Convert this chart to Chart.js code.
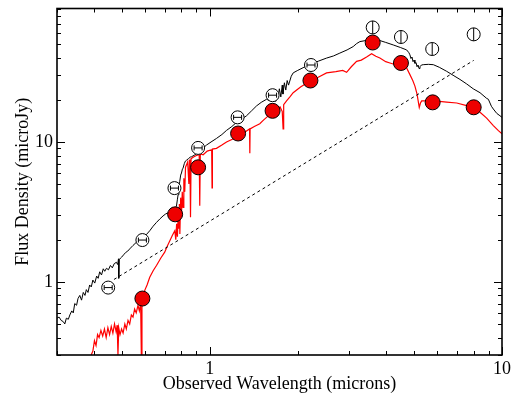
<!DOCTYPE html>
<html>
<head>
<meta charset="utf-8">
<script src="https://cdn.jsdelivr.net/npm/chart.js@4/dist/chart.umd.min.js"></script>
<style>
  html, body { margin: 0; padding: 0; background: #fff; }
  #wrap { width: 520px; height: 397px; }
</style>
</head>
<body>
<div id="wrap"><canvas id="sed" width="520" height="397"></canvas></div>
<script>
// model spectrum (black)
const blackWave = [0.300, 0.305, 0.310, 0.315, 0.319, 0.323, 0.328, 0.332, 0.337, 0.341, 0.345, 0.350, 0.354, 0.359, 0.364, 0.369, 0.374, 0.378, 0.383, 0.388, 0.393, 0.398, 0.404, 0.410, 0.415, 0.420, 0.426, 0.432, 0.437, 0.443, 0.450, 0.457, 0.464, 0.471, 0.479, 0.484, 0.487, 0.488, 0.490, 0.495, 0.499, 0.507, 0.515, 0.524, 0.532, 0.546, 0.561, 0.575, 0.591, 0.607, 0.623, 0.640, 0.657, 0.675, 0.692, 0.705, 0.720, 0.735, 0.745, 0.755, 0.769, 0.775, 0.779, 0.784, 0.789, 0.795, 0.800, 0.806, 0.810, 0.818, 0.825, 0.832, 0.845, 0.858, 0.866, 0.890, 0.912, 0.940, 0.974, 1.01, 1.054, 1.10, 1.141, 1.19, 1.234, 1.29, 1.336, 1.39, 1.445, 1.50, 1.564, 1.60, 1.62, 1.647, 1.66, 1.68, 1.692, 1.71, 1.73, 1.75, 1.77, 1.78, 1.80, 1.82, 1.84, 1.86, 1.90, 1.93, 2.00, 2.10, 2.20, 2.35, 2.51, 2.65, 2.787, 2.95, 3.096, 3.18, 3.264, 3.40, 3.50, 3.579, 3.70, 3.82, 4.00, 4.244, 4.50, 4.717, 4.80, 4.84, 4.88, 4.92, 4.96, 5.00, 5.035, 5.08, 5.12, 5.16, 5.20, 5.24, 5.30, 5.377, 5.60, 5.82, 6.10, 6.466, 6.80, 7.18, 7.57, 7.97, 8.41, 8.86, 8.98, 9.20, 9.34, 9.60, 9.84, 10.0];
const blackFlux = [0.55, 0.56, 0.53, 0.52, 0.50, 0.55, 0.54, 0.58, 0.62, 0.60, 0.70, 0.68, 0.76, 0.80, 0.74, 0.84, 0.80, 0.88, 0.84, 0.95, 0.92, 1.03, 0.98, 1.10, 1.06, 1.18, 1.12, 1.24, 1.19, 1.25, 1.22, 1.31, 1.26, 1.35, 1.38, 1.33, 1.46, 1.06, 1.44, 1.48, 1.50, 1.56, 1.62, 1.66, 1.72, 1.82, 1.92, 1.98, 2.02, 2.18, 2.32, 2.50, 2.66, 2.82, 2.96, 3.05, 3.12, 3.20, 3.40, 3.30, 3.48, 3.9, 4.2, 4.7, 5.2, 5.8, 6.0, 6.4, 6.5, 7.0, 7.3, 7.4, 7.6, 7.8, 7.84, 8.1, 8.5, 8.9, 9.5, 10.0, 10.6, 11.3, 12.1, 12.9, 13.8, 14.6, 15.4, 16.7, 18.1, 19.2, 20.2, 19.8, 21.5, 20.0, 22.3, 19.5, 22.6, 20.5, 24.0, 21.0, 25.5, 22.0, 26.5, 23.5, 27.5, 25.5, 29.5, 31.2, 32.5, 34.2, 35.7, 37.8, 39.8, 41.2, 43.2, 45.5, 48.1, 50.5, 52.2, 53.0, 54.5, 54.2, 53.5, 53.1, 51.5, 49.4, 47.3, 45.5, 43.5, 42.0, 39.5, 40.5, 37.5, 38.5, 36.5, 37.0, 34.5, 35.5, 33.5, 34.5, 35.5, 35.7, 35.9, 35.7, 34.2, 32.0, 30.0, 28.0, 26.0, 24.0, 22.5, 20.5, 20.2, 18.0, 17.2, 16.0, 15.4, 15.0];

// reddened model spectrum (red)
const redWave = [0.390, 0.398, 0.403, 0.408, 0.413, 0.418, 0.424, 0.430, 0.436, 0.442, 0.448, 0.454, 0.460, 0.466, 0.472, 0.478, 0.482, 0.485, 0.488, 0.493, 0.499, 0.505, 0.512, 0.518, 0.525, 0.532, 0.539, 0.546, 0.553, 0.560, 0.568, 0.574, 0.580, 0.583, 0.586, 0.592, 0.599, 0.610, 0.623, 0.640, 0.657, 0.680, 0.701, 0.715, 0.730, 0.745, 0.759, 0.765, 0.770, 0.775, 0.779, 0.783, 0.787, 0.790, 0.795, 0.800, 0.805, 0.810, 0.815, 0.821, 0.826, 0.832, 0.840, 0.848, 0.852, 0.855, 0.859, 0.863, 0.880, 0.900, 0.920, 0.924, 0.928, 0.949, 0.980, 1.015, 1.018, 1.021, 1.054, 1.10, 1.141, 1.20, 1.267, 1.32, 1.368, 1.371, 1.374, 1.42, 1.483, 1.52, 1.564, 1.62, 1.692, 1.74, 1.77, 1.782, 1.79, 1.831, 1.88, 1.929, 2.05, 2.20, 2.35, 2.51, 2.70, 2.85, 2.939, 3.05, 3.18, 3.30, 3.44, 3.579, 3.70, 3.82, 4.00, 4.135, 4.30, 4.474, 4.717, 4.84, 4.95, 5.035, 5.12, 5.21, 5.26, 5.31, 5.52, 6.00, 6.466, 7.00, 7.57, 8.00, 8.41, 8.86, 9.34, 9.70, 10.0];
const redFlux = [0.29, 0.32, 0.38, 0.35, 0.42, 0.40, 0.45, 0.41, 0.46, 0.40, 0.47, 0.42, 0.48, 0.43, 0.50, 0.44, 0.49, 0.30, 0.47, 0.42, 0.46, 0.43, 0.50, 0.46, 0.53, 0.50, 0.58, 0.56, 0.64, 0.60, 0.68, 0.62, 0.70, 0.30, 0.66, 0.78, 0.87, 0.95, 1.08, 1.20, 1.31, 1.48, 1.63, 1.80, 1.97, 2.15, 2.32, 2.0, 2.6, 2.1, 3.0, 2.4, 3.6, 2.2, 4.0, 3.0, 4.4, 3.4, 5.5, 4.4, 6.6, 6.85, 7.2, 5.0, 7.4, 7.5, 2.9, 7.6, 7.8, 8.0, 8.1, 3.5, 8.2, 8.1, 8.6, 8.8, 4.7, 8.9, 9.0, 9.5, 10.0, 10.5, 11.2, 11.8, 12.4, 8.3, 12.4, 12.9, 13.5, 14.2, 15.0, 16.0, 17.2, 17.8, 16.5, 12.4, 18.5, 19.7, 21.0, 22.5, 24.8, 27.2, 29.0, 31.2, 31.8, 32.5, 31.5, 34.5, 37.7, 38.5, 40.5, 42.7, 41.0, 39.8, 37.5, 36.7, 35.8, 34.8, 33.8, 30.3, 27.5, 25.1, 22.0, 17.66, 19.0, 19.68, 19.68, 19.6, 19.3, 19.0, 18.2, 17.6, 16.3, 14.8, 13.1, 12.1, 11.45];

// observed photometry (open circles) and model photometry (red dots)
const obsWave = [0.449, 0.588, 0.757, 0.912, 1.245, 1.64, 2.22, 3.61, 4.51, 5.77, 8.0];
const obsFlux = [0.91, 1.99, 4.68, 9.07, 15.0, 21.6, 35.5, 65.9, 56.3, 46.2, 58.8];
const modWave = [0.588, 0.761, 0.912, 1.25, 1.64, 2.21, 3.61, 4.51, 5.79, 8.0];
const modFlux = [0.76, 3.04, 6.59, 11.5, 16.7, 27.5, 51.4, 36.7, 19.2, 17.7];

// power-law (dashed)
const lawWave = [0.47, 8.0];
const lawFlux = [1.04, 38.3];

// axes
const xRange = [0.3, 10];
const yRange = [0.3, 90];
const xTickLabels = [1, 10];
const yTickLabels = [1, 10];
const xMinor = [0.3, 0.4, 0.5, 0.6, 0.7, 0.8, 0.9, 2, 3, 4, 5, 6, 7, 8, 9];
const yMinor = [0.3, 0.4, 0.5, 0.6, 0.7, 0.8, 0.9, 2, 3, 4, 5, 6, 7, 8, 9, 20, 30, 40, 50, 60, 70, 80, 90];

function pts(xs, ys) {
    return xs.map((x, i) => ({x: x, y: ys[i]}));
}

const serif = 'Liberation Serif';

// frame with inward ticks on all four sides
const framePlugin = {
    id: 'frame',
    afterDraw(chart) {
        const ctx = chart.ctx;
        const a = chart.chartArea;
        const xs = chart.scales.x, ys = chart.scales.y;
        ctx.save();
        ctx.strokeStyle = '#000';
        ctx.lineWidth = 1;
        ctx.beginPath();
        const tick = (vals, len, isX) => {
            vals.forEach(v => {
                if (isX) {
                    const p = Math.round(xs.getPixelForValue(v)) + 0.5;
                    ctx.moveTo(p, a.bottom); ctx.lineTo(p, a.bottom - len);
                    ctx.moveTo(p, a.top); ctx.lineTo(p, a.top + len);
                } else {
                    const p = Math.round(ys.getPixelForValue(v)) + 0.5;
                    ctx.moveTo(a.left, p); ctx.lineTo(a.left + len, p);
                    ctx.moveTo(a.right, p); ctx.lineTo(a.right - len, p);
                }
            });
        };
        tick(xMinor, 4, true);
        tick(xTickLabels, 8, true);
        tick(yMinor, 4, false);
        tick(yTickLabels, 8, false);
        ctx.stroke();
        ctx.lineWidth = 1.6;
        ctx.strokeRect(a.left, a.top, a.right - a.left, a.bottom - a.top);
        ctx.restore();
    }
};

// error bar marks inside the open circles
const barPlugin = {
    id: 'bars',
    afterDatasetsDraw(chart) {
        const ctx = chart.ctx;
        const meta = chart.getDatasetMeta(0);
        ctx.save();
        ctx.strokeStyle = '#000';
        ctx.lineWidth = 1;
        ctx.beginPath();
        meta.data.forEach((el, i) => {
            const x = el.x, y = el.y;
            if (obsWave[i] < 3) {
                ctx.moveTo(x - 4, y); ctx.lineTo(x + 4, y);
                ctx.moveTo(x - 4, y - 2.5); ctx.lineTo(x - 4, y + 2.5);
                ctx.moveTo(x + 4, y - 2.5); ctx.lineTo(x + 4, y + 2.5);
            } else {
                ctx.moveTo(x, y - 6.5); ctx.lineTo(x, y + 6.5);
            }
        });
        ctx.stroke();
        ctx.restore();
    }
};

new Chart(document.getElementById('sed'), {
    type: 'scatter',
    data: {
        datasets: [
            {
                data: pts(obsWave, obsFlux),
                pointRadius: 6.5,
                pointBackgroundColor: '#fff',
                pointBorderColor: '#000',
                pointBorderWidth: 1,
            },
            {
                data: pts(modWave, modFlux),
                pointRadius: 7.5,
                pointBackgroundColor: '#ee0000',
                pointBorderColor: '#000',
                pointBorderWidth: 1,
            },
            {
                data: pts(lawWave, lawFlux),
                showLine: true,
                pointRadius: 0,
                borderColor: '#000',
                borderWidth: 1,
                borderDash: [3, 3],
            },
            {
                data: pts(redWave, redFlux),
                showLine: true,
                pointRadius: 0,
                borderColor: '#ff0000',
                borderWidth: 1.2,
            },
            {
                data: pts(blackWave, blackFlux),
                showLine: true,
                pointRadius: 0,
                borderColor: '#000',
                borderWidth: 1,
            },
        ],
    },
    options: {
        responsive: false,
        animation: false,
        events: [],
        layout: { padding: { top: 5, right: 18, left: 0, bottom: 0 } },
        plugins: { legend: { display: false }, tooltip: { enabled: false } },
        scales: {
            x: {
                type: 'logarithmic',
                min: xRange[0],
                max: xRange[1],
                afterBuildTicks: axis => { axis.ticks = xTickLabels.map(v => ({value: v})); },
                afterFit: axis => {
                    axis.height = 42;
                    axis.paddingLeft = 0;
                    axis.paddingRight = 0;
                },
                grid: { display: false, drawTicks: false },
                border: { display: false },
                ticks: {
                    autoSkip: false,
                    maxRotation: 0,
                    padding: 3,
                    color: '#000',
                    font: { family: serif, size: 18 },
                    callback: v => String(v),
                },
                title: {
                    display: true,
                    text: 'Observed Wavelength (microns)',
                    color: '#000',
                    font: { family: serif, size: 18 },
                    padding: { top: 0, bottom: 2 },
                },
            },
            y: {
                type: 'logarithmic',
                min: yRange[0],
                max: yRange[1],
                afterBuildTicks: axis => { axis.ticks = yTickLabels.map(v => ({value: v})); },
                afterFit: axis => {
                    axis.width = 57;
                    axis.paddingTop = 0;
                    axis.paddingBottom = 0;
                },
                grid: { display: false, drawTicks: false },
                border: { display: false },
                ticks: {
                    autoSkip: false,
                    padding: 4,
                    color: '#000',
                    font: { family: serif, size: 18 },
                    callback: v => String(v),
                },
                title: {
                    display: true,
                    text: 'Flux Density (microJy)',
                    color: '#000',
                    font: { family: serif, size: 18 },
                    padding: { top: 12, bottom: 0 },
                },
            },
        },
    },
    plugins: [barPlugin, framePlugin],
});
</script>
</body>
</html>
